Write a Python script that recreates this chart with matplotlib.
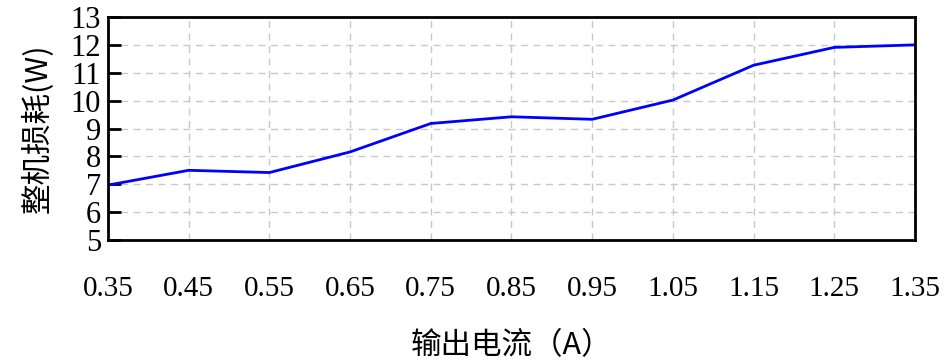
import matplotlib.pyplot as plt

plt.rcParams['font.family'] = ['Liberation Serif', 'Noto Sans CJK SC']

# data
current = [0.35, 0.45, 0.55, 0.65, 0.75, 0.85, 0.95, 1.05, 1.15, 1.25, 1.35]
loss = [6.97, 7.50, 7.42, 8.16, 9.18, 9.42, 9.33, 10.02, 11.27, 11.91, 12.0]
xticks = current
xtick_labels = ['0.35', '0.45', '0.55', '0.65', '0.75', '0.85', '0.95',
                '1.05', '1.15', '1.25', '1.35']
yticks = [5, 6, 7, 8, 9, 10, 11, 12, 13]

fig = plt.figure(figsize=(9.49, 3.63), dpi=100)
ax = fig.add_axes([108/949, 1-240/363, (915-108)/949, (240-17)/363])

ax.plot(current, loss, color='#0000ff', lw=2)

ax.set_xlim(0.35, 1.35)
ax.set_ylim(5, 13)
ax.set_xticks(xticks)
ax.set_xticklabels(xtick_labels, fontsize=21)
ax.set_yticks(yticks)
ax.set_yticklabels([str(v) for v in yticks], fontsize=22)

ax.tick_params(axis='y', direction='in', length=9, width=2, pad=5)
ax.tick_params(axis='x', length=0, pad=26)
ax.grid(True, color='#c8c8c8', linestyle=(0, (5, 4)), lw=1)

for s in ax.spines.values():
    s.set_linewidth(2)
    s.set_color('black')

ax.set_xlabel('输出电流（A）', fontsize=22, labelpad=20,
              family=['Noto Sans CJK SC', 'DejaVu Sans'])
ax.set_ylabel('整机损耗(W)', fontsize=22, labelpad=12,
              family=['Noto Sans CJK SC', 'DejaVu Sans'])

fig.savefig('out.png', dpi=100)
